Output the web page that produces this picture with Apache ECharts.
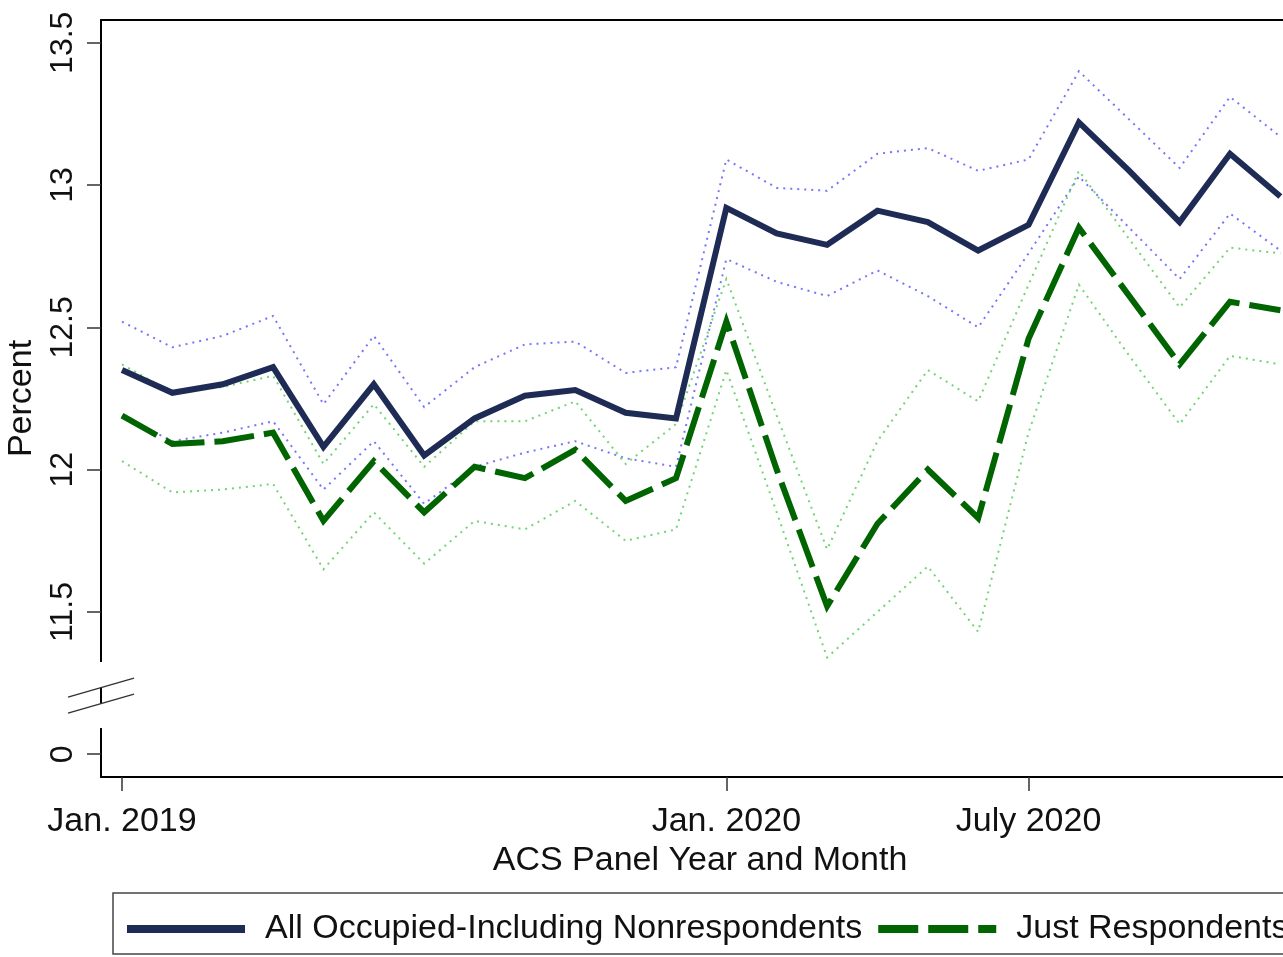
<!DOCTYPE html>
<html>
<head>
<meta charset="UTF-8">
<title>ACS Panel - Percent by month</title>
<script src="https://cdn.jsdelivr.net/npm/echarts@6.0.0/dist/echarts.min.js"></script>
<style>
html, body { margin: 0; padding: 0; background: #fff; }
#main { width: 1283px; height: 957px; }
</style>
</head>
<body>
<div id="main"></div>
<script type="text/javascript">
// ACS panel months, Jan. 2019 .. Dec. 2020 (x = index)
var months = ['2019-01','2019-02','2019-03','2019-04','2019-05','2019-06','2019-07','2019-08','2019-09','2019-10','2019-11','2019-12',
              '2020-01','2020-02','2020-03','2020-04','2020-05','2020-06','2020-07','2020-08','2020-09','2020-10','2020-11','2020-12'];

// all occupied incl. nonrespondents + its CI
var allOcc   = [12.35, 12.27, 12.30, 12.36, 12.08, 12.30, 12.05, 12.18, 12.26, 12.28, 12.20, 12.18,
                12.92, 12.83, 12.79, 12.91, 12.87, 12.77, 12.86, 13.22, 13.05, 12.87, 13.11, 12.96];
var allOccHi = [12.52, 12.43, 12.47, 12.54, 12.23, 12.47, 12.22, 12.36, 12.44, 12.45, 12.34, 12.36,
                13.09, 12.99, 12.98, 13.11, 13.13, 13.05, 13.09, 13.40, 13.23, 13.06, 13.31, 13.17];
var allOccLo = [12.19, 12.10, 12.13, 12.17, 11.93, 12.10, 11.88, 12.01, 12.06, 12.10, 12.04, 12.01,
                12.74, 12.66, 12.61, 12.70, 12.61, 12.50, 12.76, 13.03, 12.85, 12.67, 12.90, 12.77];

// just respondents + its CI
var justResp   = [12.19, 12.09, 12.10, 12.13, 11.82, 12.03, 11.85, 12.01, 11.97, 12.07, 11.89, 11.97,
                  12.52, 12.00, 11.52, 11.81, 12.00, 11.83, 12.46, 12.85, 12.61, 12.37, 12.59, 12.56];
var justRespHi = [12.37, 12.27, 12.29, 12.33, 12.02, 12.23, 12.01, 12.17, 12.17, 12.24, 12.02, 12.16,
                  12.67, 12.19, 11.72, 12.10, 12.35, 12.24, 12.65, 13.05, 12.81, 12.57, 12.78, 12.76];
var justRespLo = [12.03, 11.92, 11.93, 11.95, 11.65, 11.85, 11.67, 11.82, 11.79, 11.89, 11.75, 11.79,
                  12.35, 11.85, 11.34, 11.50, 11.66, 11.43, 12.13, 12.65, 12.40, 12.16, 12.40, 12.37];

// ticks
var xTickVals = [0, 12, 18];
var xTickText = ['Jan. 2019', 'Jan. 2020', 'July 2020'];
// the axis is broken: the lowest tick stands for 0
var yTickVals = [11, 11.5, 12, 12.5, 13, 13.5];
var yTickText = ['0', '11.5', '12', '12.5', '13', '13.5'];

var FONT = "'Liberation Sans', Arial, sans-serif";
var NAME_ALL = 'All Occupied-Including Nonrespondents';
var NAME_RESP = 'Just Respondents';

function pts(arr) {
	return arr.map(function (v, i) { return [i, v]; });
}

function lineSeries(name, arr, color, width, type, z) {
	return {
		name: name,
		type: 'line',
		data: pts(arr),
		symbol: 'none',
		z: z,
		lineStyle: { color: color, width: width, type: type, cap: 'butt', join: 'miter' },
		itemStyle: { color: color },
		emphasis: { disabled: true }
	};
}

var myChart = echarts.init(document.getElementById('main'));

var option = {
	animation: false,
	backgroundColor: '#fff',
	grid: {
		left: 101, top: 20, right: -16, bottom: 180,
		containLabel: false, outerBoundsMode: 'none'
	},
	legend: {
		data: [NAME_ALL, NAME_RESP],
		left: 113, top: 893, width: 1400,
		orient: 'horizontal',
		selectedMode: false,
		itemWidth: 118, itemHeight: 20, itemGap: 12,
		padding: [19, 12, 8, 10],
		borderColor: '#444', borderWidth: 1.5,
		itemStyle: { opacity: 0 },
		lineStyle: { width: 8 },
		textStyle: { fontSize: 34, color: '#111', fontFamily: FONT, padding: [0, 0, 0, 15] }
	},
	xAxis: [{
		type: 'value', position: 'bottom',
		min: -0.417, max: 23.37,
		axisLine: { show: true, onZero: false, lineStyle: { color: '#000', width: 2 } },
		axisTick: { show: true, customValues: xTickVals, length: 14, lineStyle: { color: '#333', width: 1.5 } },
		axisLabel: {
			customValues: xTickVals, margin: 28, fontSize: 34, color: '#111', fontFamily: FONT,
			formatter: function (v) { return xTickText[xTickVals.indexOf(v)]; }
		},
		splitLine: { show: false },
		name: 'ACS Panel Year and Month', nameLocation: 'middle', nameGap: 64,
		nameTextStyle: { fontSize: 34, color: '#111', fontFamily: FONT }
	}, {
		// top frame line
		type: 'value', position: 'top',
		min: -0.417, max: 23.37,
		axisLine: { show: true, onZero: false, lineStyle: { color: '#000', width: 2 } },
		axisTick: { show: false }, axisLabel: { show: false }, splitLine: { show: false }
	}],
	yAxis: {
		type: 'value',
		min: 10.92, max: 13.58,
		axisLine: { show: true, onZero: false, lineStyle: { color: '#000', width: 2 } },
		axisTick: { show: true, customValues: yTickVals, length: 14, lineStyle: { color: '#333', width: 1.5 } },
		axisLabel: {
			customValues: yTickVals, rotate: 90, margin: 22, fontSize: 32, color: '#111', fontFamily: FONT,
			formatter: function (v) { return yTickText[yTickVals.indexOf(v)]; }
		},
		splitLine: { show: false },
		name: 'Percent', nameLocation: 'middle', nameRotate: 90, nameGap: 44,
		nameTextStyle: { fontSize: 34, color: '#111', fontFamily: FONT }
	},
	series: [
		lineSeries('ciAllHi', allOccHi, '#7676fa', 2, [2, 5], 2),
		lineSeries('ciAllLo', allOccLo, '#7676fa', 2, [2, 5], 2),
		lineSeries('ciRespHi', justRespHi, '#72d472', 2, [2, 5], 2),
		lineSeries('ciRespLo', justRespLo, '#72d472', 2, [2, 5], 2),
		lineSeries(NAME_RESP, justResp, '#006400', 6, [40, 10], 3),
		lineSeries(NAME_ALL, allOcc, '#1e2b55', 6, 'solid', 4)
	]
};

myChart.setOption(option);

// axis-break marks on the y axis, placed through the axis scales
var axX = myChart.convertToPixel({ xAxisIndex: 0 }, -0.417);
var yA = myChart.convertToPixel({ yAxisIndex: 0 }, 11.324);
var yB = myChart.convertToPixel({ yAxisIndex: 0 }, 11.092);
var yM = myChart.convertToPixel({ yAxisIndex: 0 }, 11.206);
var brkStyle = { stroke: '#333', lineWidth: 1.5 };
myChart.setOption({
	graphic: [
		{ type: 'rect', z: 100, shape: { x: axX - 3, y: yA, width: 6, height: (yM - 8) - yA }, style: { fill: '#fff' } },
		{ type: 'rect', z: 100, shape: { x: axX - 3, y: yM + 8, width: 6, height: yB - (yM + 8) }, style: { fill: '#fff' } },
		{ type: 'line', z: 101, shape: { x1: axX - 33, y1: yM + 1.5, x2: axX + 33, y2: yM - 17.5 }, style: brkStyle },
		{ type: 'line', z: 101, shape: { x1: axX - 33, y1: yM + 17.5, x2: axX + 33, y2: yM - 1.5 }, style: brkStyle }
	]
});
</script>
</body>
</html>
